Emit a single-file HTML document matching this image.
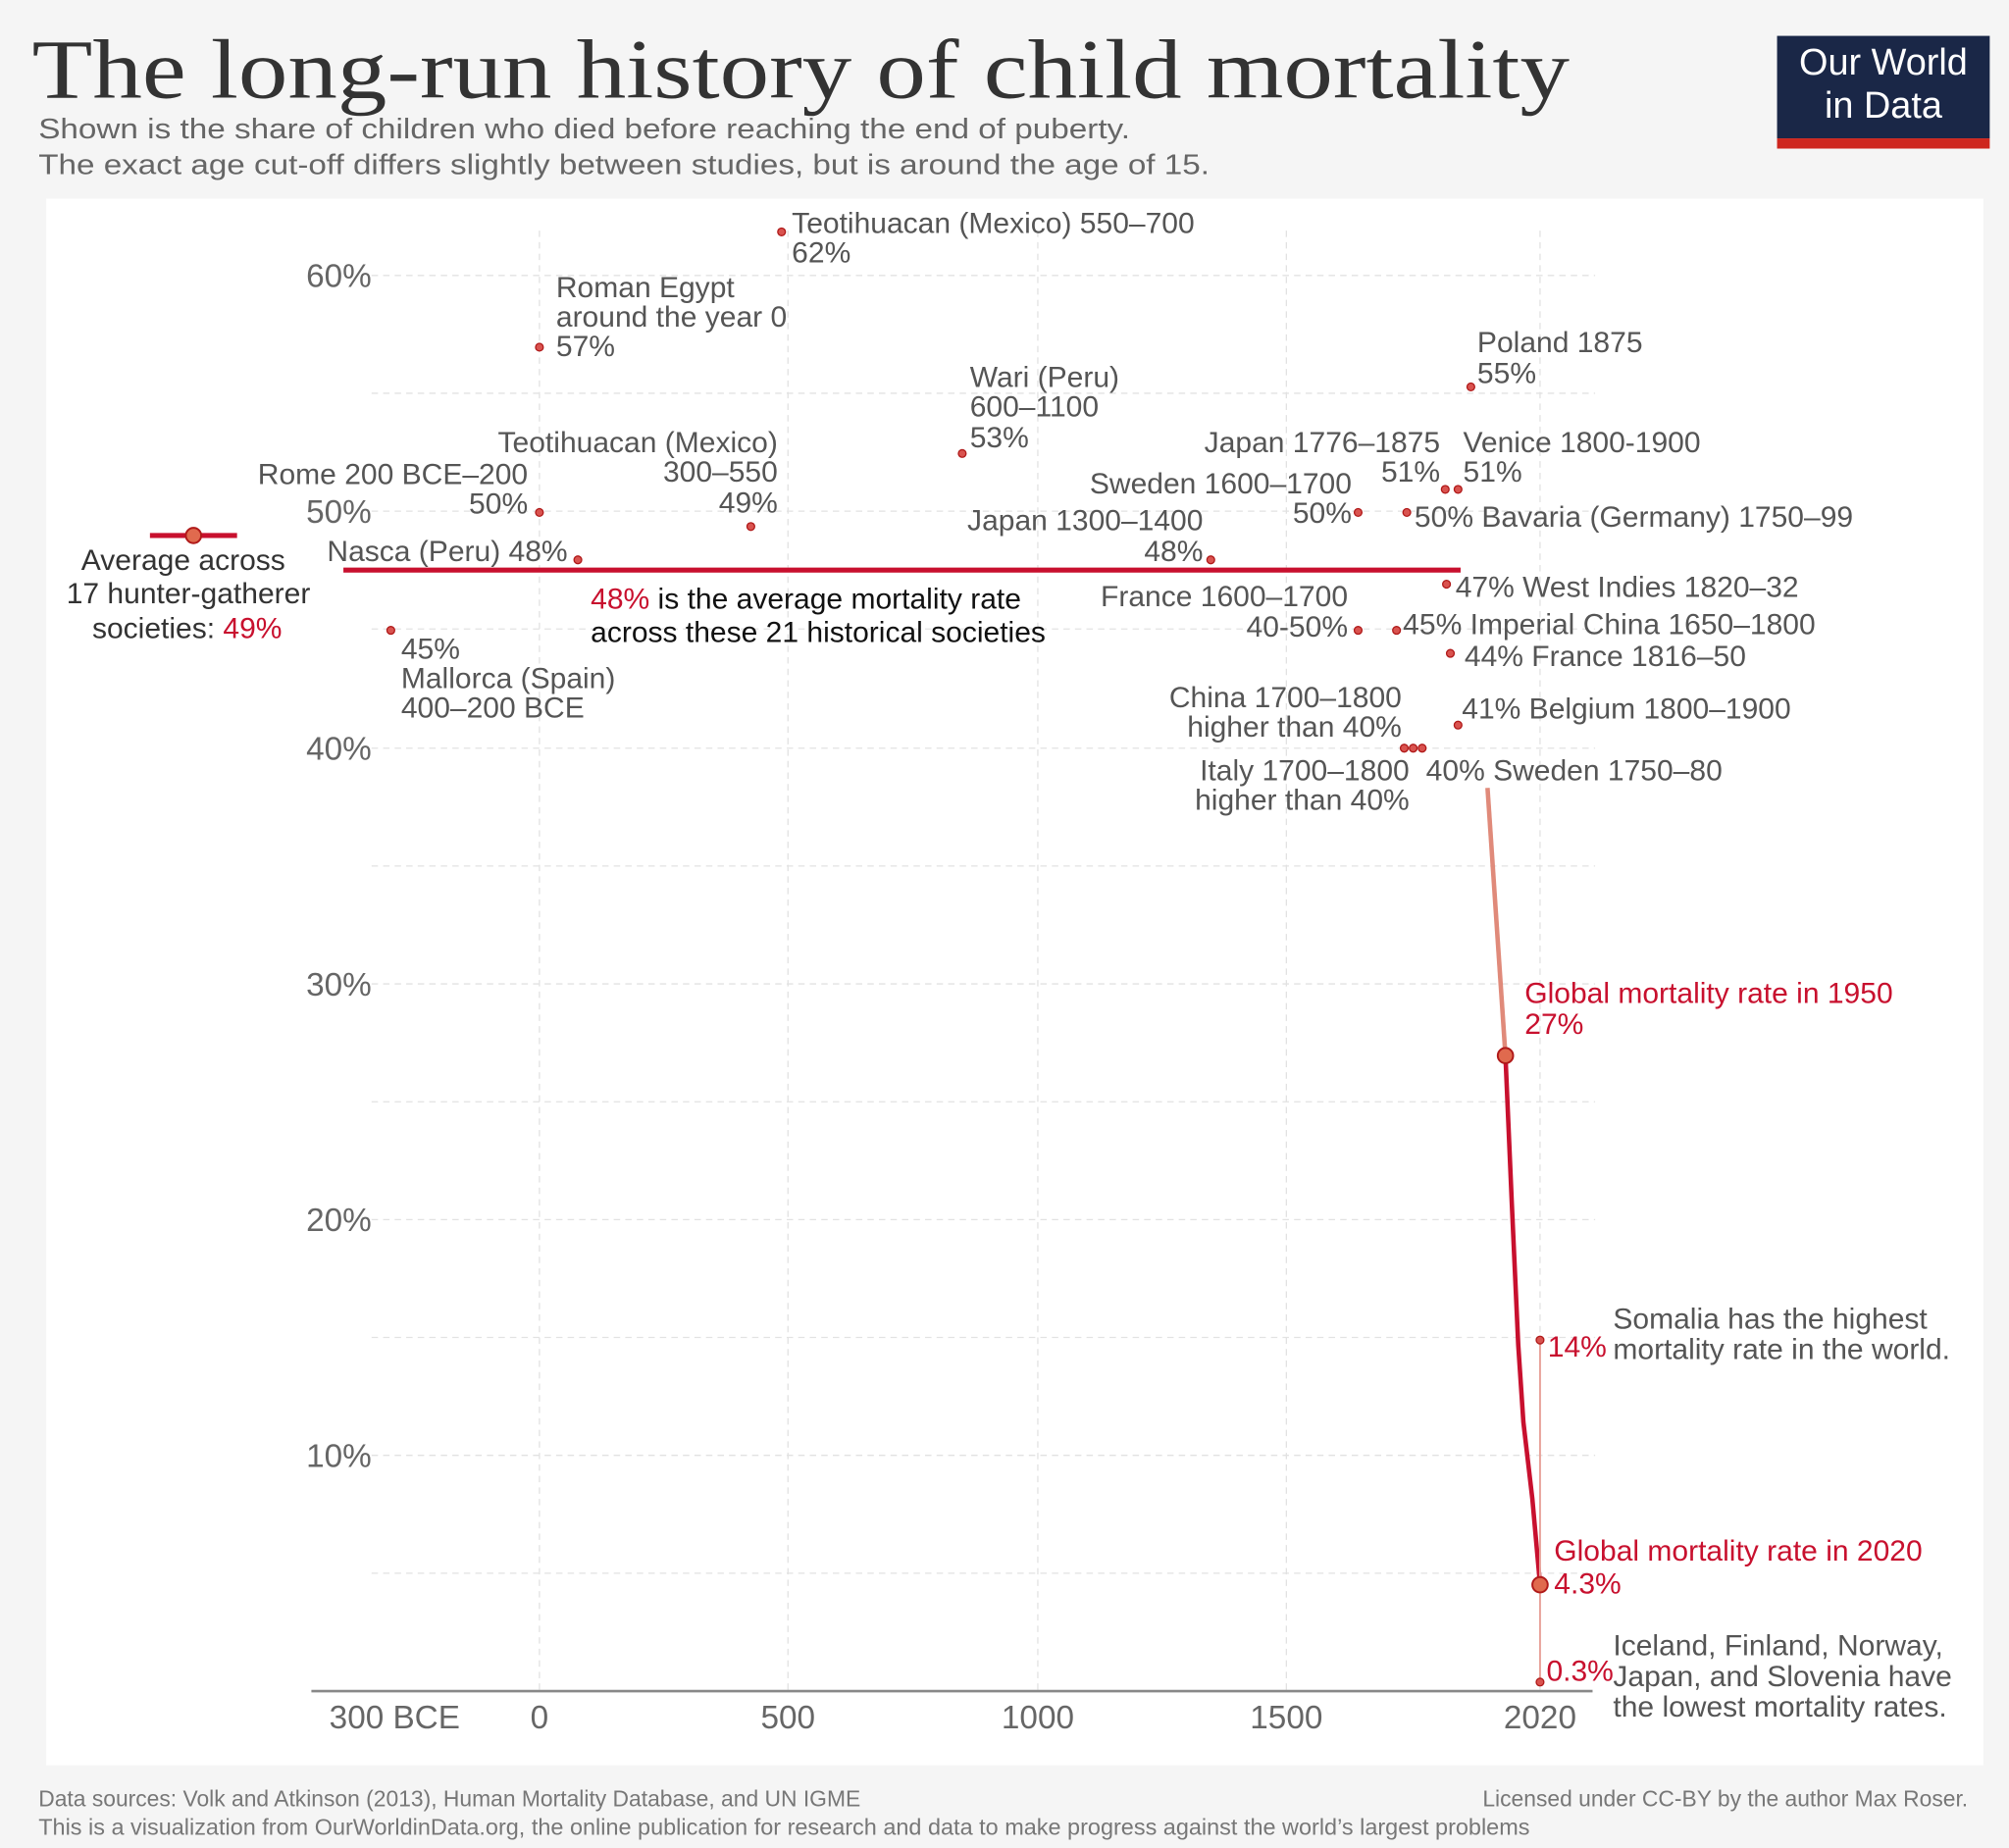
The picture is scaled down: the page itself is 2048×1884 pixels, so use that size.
<!DOCTYPE html>
<html><head><meta charset="utf-8"><style>
html,body{margin:0;padding:0;background:#f5f5f5;}
svg{display:block;}
text{font-family:"Liberation Sans",sans-serif;}
.l{font-size:23px;fill:#555;}
.r{font-size:23px;fill:#c8102e;}
.ax{font-size:25.5px;fill:#666;}
.dot{fill:#d9534f;stroke:#b01919;stroke-width:1;}
</style></head><body>
<svg width="2048" height="1884" viewBox="0 0 1568 1442.5" xmlns="http://www.w3.org/2000/svg">
<rect x="0" y="0" width="1568" height="1442.5" fill="#f5f5f5"/>
<text x="25" y="76" font-size="66" fill="#333" textLength="1200" lengthAdjust="spacingAndGlyphs" style="font-family:'Liberation Serif',serif">The long-run history of child mortality</text>
<text x="30" y="108" font-size="22" fill="#666" textLength="852" lengthAdjust="spacingAndGlyphs">Shown is the share of children who died before reaching the end of puberty.</text>
<text x="30" y="136" font-size="22" fill="#666" textLength="914" lengthAdjust="spacingAndGlyphs">The exact age cut-off differs slightly between studies, but is around the age of 15.</text>
<rect x="1387" y="28" width="166" height="80" fill="#1a2747"/>
<rect x="1387" y="108" width="166" height="8" fill="#ce261e"/>
<text x="1470" y="58" font-size="29" fill="#fff" text-anchor="middle">Our World</text>
<text x="1470" y="92" font-size="29" fill="#fff" text-anchor="middle">in Data</text>
<rect x="36" y="155" width="1512" height="1223" fill="#fff"/>
<g stroke="#e2e2e2" stroke-width="1" stroke-dasharray="5,4">
<line x1="290" y1="215" x2="1245" y2="215"/><line x1="290" y1="307" x2="1245" y2="307"/>
<line x1="290" y1="399" x2="1245" y2="399"/><line x1="290" y1="491" x2="1245" y2="491"/>
<line x1="290" y1="584" x2="1245" y2="584"/><line x1="290" y1="676" x2="1245" y2="676"/>
<line x1="290" y1="768" x2="1245" y2="768"/><line x1="290" y1="860" x2="1245" y2="860"/>
<line x1="290" y1="952" x2="1245" y2="952"/><line x1="290" y1="1044" x2="1245" y2="1044"/>
<line x1="290" y1="1136" x2="1245" y2="1136"/><line x1="290" y1="1228" x2="1245" y2="1228"/>
<line x1="421" y1="180" x2="421" y2="1320"/><line x1="615" y1="180" x2="615" y2="1320"/>
<line x1="810" y1="180" x2="810" y2="1320"/><line x1="1004" y1="180" x2="1004" y2="1320"/>
<line x1="1202" y1="180" x2="1202" y2="1320"/>
</g>
<line x1="243" y1="1320" x2="1243" y2="1320" stroke="#888" stroke-width="2"/>
<g class="ax" text-anchor="end">
<text x="290" y="224">60%</text><text x="290" y="408">50%</text><text x="290" y="593">40%</text>
<text x="290" y="777">30%</text><text x="290" y="961">20%</text><text x="290" y="1145">10%</text>
</g>
<g class="ax" text-anchor="middle">
<text x="308" y="1349">300 BCE</text><text x="421" y="1349">0</text><text x="615" y="1349">500</text>
<text x="810" y="1349">1000</text><text x="1004" y="1349">1500</text><text x="1202" y="1349">2020</text>
</g>
<line x1="268" y1="445" x2="1140" y2="445" stroke="#c8102e" stroke-width="4"/>
<line x1="117" y1="418" x2="185" y2="418" stroke="#c8102e" stroke-width="4"/>
<circle cx="151" cy="418" r="6" fill="#e06a4e" stroke="#b01919" stroke-width="1.5"/>
<text x="143" y="445" font-size="23" fill="#333" text-anchor="middle">Average across</text>
<text x="147" y="471" font-size="23" fill="#333" text-anchor="middle">17 hunter-gatherer</text>
<text x="146" y="498" font-size="23" fill="#333" text-anchor="middle">societies: <tspan fill="#c8102e">49%</tspan></text>
<text x="461" y="475" font-size="23" fill="#111"><tspan fill="#c8102e">48%</tspan> is the average mortality rate</text>
<text x="461" y="501" font-size="23" fill="#111">across these 21 historical societies</text>
<line x1="1161" y1="615" x2="1175" y2="824" stroke="#e08a7a" stroke-width="3.5"/>
<path d="M1175,824 L1180,940 L1185,1050 L1189,1110 L1196,1170 L1202,1237" fill="none" stroke="#c8102e" stroke-width="3.5"/>
<line x1="1202" y1="1046" x2="1202" y2="1313" stroke="#e8a39a" stroke-width="1.5"/>
<circle cx="1175" cy="824" r="6" fill="#e06a4e" stroke="#b01919" stroke-width="1.5"/>
<circle cx="1202" cy="1237" r="6" fill="#e06a4e" stroke="#b01919" stroke-width="1.5"/>
<g class="dot">
<circle cx="610" cy="181" r="3"/><circle cx="421" cy="271" r="3"/><circle cx="1148" cy="302" r="3"/>
<circle cx="751" cy="354" r="3"/><circle cx="586" cy="411" r="3"/><circle cx="421" cy="400" r="3"/>
<circle cx="451" cy="437" r="3"/><circle cx="945" cy="437" r="3"/><circle cx="1060" cy="400" r="3"/>
<circle cx="1128" cy="382" r="3"/><circle cx="1138" cy="382" r="3"/><circle cx="1098" cy="400" r="3"/>
<circle cx="1129" cy="456" r="3"/><circle cx="1060" cy="492" r="3"/><circle cx="1090" cy="492" r="3"/>
<circle cx="1132" cy="510" r="3"/><circle cx="1138" cy="566" r="3"/><circle cx="1096" cy="584" r="3"/>
<circle cx="1103" cy="584" r="3"/><circle cx="1110" cy="584" r="3"/><circle cx="305" cy="492" r="3"/>
<circle cx="1202" cy="1046" r="3"/><circle cx="1202" cy="1313" r="3"/>
</g>
<g class="l">
<text x="618" y="182">Teotihuacan (Mexico) 550–700</text><text x="618" y="205">62%</text>
<text x="434" y="232">Roman Egypt</text><text x="434" y="255">around the year 0</text><text x="434" y="278">57%</text>
<text x="1153" y="275">Poland 1875</text><text x="1153" y="299">55%</text>
<text x="757" y="302">Wari (Peru)</text><text x="757" y="325">600–1100</text><text x="757" y="349">53%</text>
<text x="607" y="353" text-anchor="end">Teotihuacan (Mexico)</text><text x="607" y="376" text-anchor="end">300–550</text><text x="607" y="400" text-anchor="end">49%</text>
<text x="412" y="378" text-anchor="end">Rome 200 BCE–200</text><text x="412" y="401" text-anchor="end">50%</text>
<text x="443" y="438" text-anchor="end">Nasca (Peru) 48%</text>
<text x="939" y="414" text-anchor="end">Japan 1300–1400</text><text x="939" y="438" text-anchor="end">48%</text>
<text x="1055" y="385" text-anchor="end">Sweden 1600–1700</text><text x="1055" y="408" text-anchor="end">50%</text>
<text x="1124" y="353" text-anchor="end">Japan 1776–1875</text><text x="1124" y="376" text-anchor="end">51%</text>
<text x="1142" y="353">Venice 1800-1900</text><text x="1142" y="376">51%</text>
<text x="1104" y="411">50% Bavaria (Germany) 1750–99</text>
<text x="1136" y="466">47% West Indies 1820–32</text>
<text x="1052" y="473" text-anchor="end">France 1600–1700</text><text x="1052" y="497" text-anchor="end">40-50%</text>
<text x="1095" y="495">45% Imperial China 1650–1800</text>
<text x="1143" y="520">44% France 1816–50</text>
<text x="1094" y="552" text-anchor="end">China 1700–1800</text><text x="1094" y="575" text-anchor="end">higher than 40%</text>
<text x="1141" y="561">41% Belgium 1800–1900</text>
<text x="1100" y="609" text-anchor="end">Italy 1700–1800</text><text x="1100" y="632" text-anchor="end">higher than 40%</text>
<text x="1113" y="609">40% Sweden 1750–80</text>
<text x="313" y="514">45%</text><text x="313" y="537">Mallorca (Spain)</text><text x="313" y="560">400–200 BCE</text>
<text x="1259" y="1037">Somalia has the highest</text><text x="1259" y="1061">mortality rate in the world.</text>
<text x="1259" y="1292">Iceland, Finland, Norway,</text><text x="1259" y="1316">Japan, and Slovenia have</text><text x="1259" y="1340">the lowest mortality rates.</text>
</g>
<g class="r">
<text x="1190" y="783">Global mortality rate in 1950</text><text x="1190" y="807">27%</text>
<text x="1208" y="1059">14%</text>
<text x="1213" y="1218">Global mortality rate in 2020</text><text x="1213" y="1244">4.3%</text>
<text x="1207" y="1312">0.3%</text>
</g>
<text x="30" y="1410" font-size="17.5" fill="#777">Data sources: Volk and Atkinson (2013), Human Mortality Database, and UN IGME</text>
<text x="1536" y="1410" font-size="17.5" fill="#777" text-anchor="end">Licensed under CC-BY by the author Max Roser.</text>
<text x="30" y="1432" font-size="17.5" fill="#777" textLength="1164" lengthAdjust="spacingAndGlyphs">This is a visualization from OurWorldinData.org, the online publication for research and data to make progress against the world’s largest problems</text>
</svg>
</body></html>
